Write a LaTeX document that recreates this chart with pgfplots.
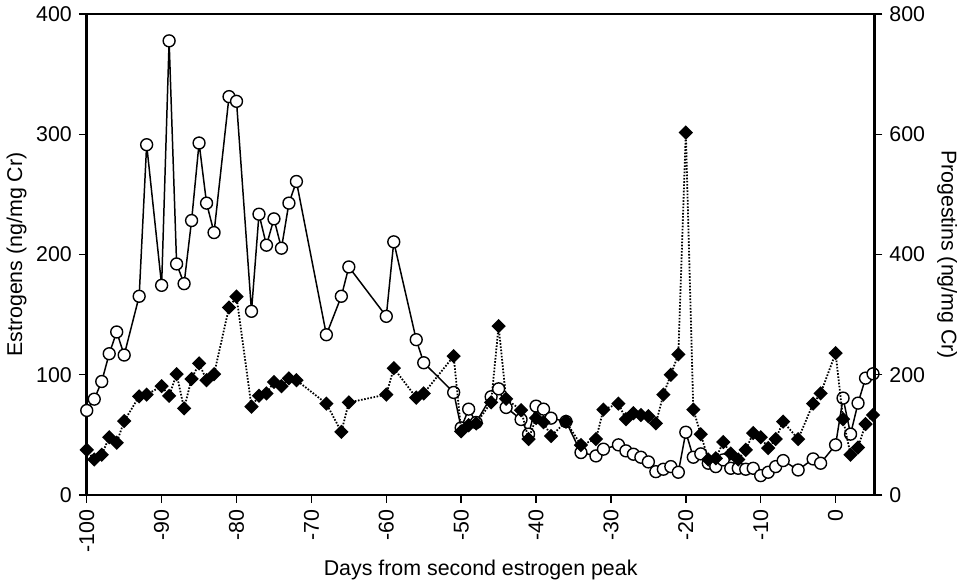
\documentclass[border=0pt]{standalone}
\usepackage{fontspec}
\setmainfont{Liberation Sans}
\usepackage{pgfplots}
\pgfplotsset{compat=1.18}

\pgfplotsset{
  hormonebase/.style={
    scale only axis,
    width=396.5bp, height=242bp,
    xmin=-100, xmax=5.2,
    tick align=outside,
    major tick length=4bp,
    tick style={line width=0.7bp, black},
    axis line style={-, line width=1bp},
    y axis line style={line width=1.4bp},
    /pgf/number format/assume math mode=true,
    tick label style={font=\fontsize{10.8}{13}\selectfont},
    label style={font=\fontsize{10.8}{13}\selectfont},
  }
}

\begin{document}
\begin{tikzpicture}
\begin{axis}[
    hormonebase,
    ymin=0, ymax=400,
    ytick={0,100,200,300,400},
    axis x line*=box,
    axis y line*=left,
    xtick pos=left,
    xtick={-100,-90,-80,-70,-60,-50,-40,-30,-20,-10,0},
    xticklabel style={rotate=90, anchor=east},
    xlabel={Days from second estrogen peak},
    xlabel style={yshift=3bp},
    ylabel={Estrogens (ng/mg Cr)},
    ylabel shift=-2bp,
]
% estrogens, left axis
\addplot[black, line width=0.75bp, mark=*, mark size=3bp,
         mark options={fill=white, draw=black, line width=0.7bp}] coordinates {
    (-100,70.3)(-99,79.7)(-98,94.4)(-97,117.5)(-96,135.6)(-95,116.4)
    (-93,165.3)(-92,291.4)(-90,174.4)(-89,377.8)(-88,192.2)(-87,175.8)
    (-86,228.3)(-85,292.8)(-84,242.8)(-83,218.3)(-81,331.4)(-80,327.5)
    (-78,152.8)(-77,233.6)(-76,207.8)(-75,229.7)(-74,205.3)(-73,242.8)
    (-72,260.8)(-68,133.3)(-66,165.3)(-65,189.7)(-60,148.6)(-59,210.6)
    (-56,129.2)(-55,110)(-51,85.3)(-50,55.8)(-49,71.4)(-48,60.3)
    (-46,81.7)(-45,88.3)(-44,72.8)(-42,62.8)(-41,50.6)(-40,73.9)
    (-39,71.4)(-38,63.9)(-36,61.1)(-34,35.3)(-32,32.5)(-31,38.1)
    (-29,41.7)(-28,36.7)(-27,33.9)(-26,31.4)(-25,27.5)(-24,19.4)
    (-23,21.4)(-22,23.6)(-21,18.9)(-20,52.2)(-19,31.4)(-18,34.2)
    (-17,26.4)(-16,23.6)(-15,29.2)(-14,22.2)(-13,22.2)(-12,21.4)
    (-11,22.2)(-10,16.1)(-9,18.9)(-8,23.6)(-7,28.6)(-5,20.8)
    (-3,30)(-2,26.4)(0,41.7)(1,80.6)(2,50.6)(3,76.4)(4,97.2)(5,100.8)
};
\end{axis}

\begin{axis}[
    hormonebase,
    ymin=0, ymax=800,
    ytick={0,200,400,600,800},
    axis x line=none,
    axis y line*=right,
    ylabel={Progestins (ng/mg Cr)},
    ylabel style={rotate=180, inner sep=1bp},
    ylabel shift=1.5bp,
]
% progestins, right axis
\addplot[black, line width=0.9bp, dash pattern=on 0.8bp off 0.8bp,
         mark=square*, mark size=2.1bp,
         mark options={solid, rotate=45, fill=black, draw=black}] coordinates {
    (-100,75)(-99,59)(-98,67)(-97,96)(-96,87)(-95,123)
    (-93,164)(-92,167)(-90,181)(-89,165)(-88,201)(-87,144)
    (-86,193)(-85,219)(-84,191)(-83,201)(-81,312)(-80,330)
    (-78,147)(-77,165)(-76,169)(-75,188)(-74,181)(-73,194)
    (-72,191)(-68,152)(-66,105)(-65,154)(-60,167)(-59,211)
    (-56,162)(-55,169)(-51,231)(-50,106)(-49,116)(-48,119)
    (-46,154)(-45,281)(-44,160)(-42,141)(-41,93)(-40,128)
    (-39,121)(-38,98)(-36,122)(-34,83)(-32,93)(-31,142)
    (-29,152)(-28,126)(-27,136)(-26,133)(-25,131)(-24,119)
    (-23,167)(-22,200)(-21,234)(-20,603)(-19,142)(-18,101)
    (-17,59)(-16,61)(-15,88)(-14,69)(-13,59)(-12,75)
    (-11,103)(-10,96)(-9,78)(-8,93)(-7,122)(-5,93)
    (-3,152)(-2,169)(0,236)(1,126)(2,67)(3,79)(4,118)(5,133)
};
\end{axis}
\end{tikzpicture}
\end{document}
